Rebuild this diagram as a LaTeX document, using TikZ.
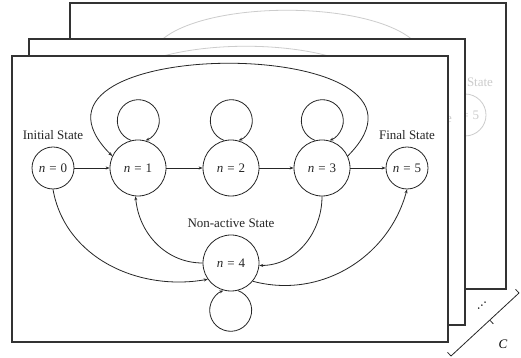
\documentclass[tikz,border=0pt]{standalone}
\usepackage{fontspec}
\setmainfont{Liberation Serif}
\usepackage{tikz}
\usetikzlibrary{arrows.meta, calc}

\tikzset{
	st/.style = {draw, circle, line width=0.8pt, inner sep=0pt, minimum size=42pt},
	bst/.style = {st, minimum size=56pt},
	lbl/.style = {inner sep=0pt},
	arr/.style = {line width=0.8pt, -{Stealth[length=4pt, width=3pt]}},
	frame/.style = {draw=black!80, line width=1.3pt},
	brk/.style = {line width=0.8pt, black!85}
}

\newif\ifghost
\newif\ifshowfive
\newcommand{\nlab}[1]{\textit{n}\hspace{0.3em}=\hspace{0.3em}#1}
\newcommand{\fgtxt}[1]{\ifghost\else#1\fi}

% one layer of the state machine
\newcommand{\fsmlayer}{%
	\node[st] (n0) at (53,190) {\fgtxt{\nlab{0}}};
	\node[bst] (n1) at (138,190) {\fgtxt{\nlab{1}}};
	\node[bst] (n2) at (231,190) {\fgtxt{\nlab{2}}};
	\node[bst] (n3) at (322,190) {\fgtxt{\nlab{3}}};
	\node[bst] (n4) at (231,95) {\fgtxt{\nlab{4}}};
	\node[st] (n5) at (407,190) {\ifshowfive\nlab{5}\fi};
	\node[lbl] (l0) at (53,223) {\fgtxt{Initial State}};
	\node[lbl] (l5) at (407,223) {Final State};
	\node[lbl] (l4) at (231,135) {\fgtxt{Non-active State}};
	% straight transitions
	\draw[arr] (n0) -- (n1);
	\draw[arr] (n1) -- (n2);
	\draw[arr] (n2) -- (n3);
	\draw[arr] (n3) -- (n5);
	% self loops
	\foreach \k in {1,2,3}
		\draw[arr] (n\k.104) arc[radius=21pt, start angle=250, end angle=-70];
	\draw[arr] (n4.-76) arc[radius=21pt, start angle=70, end angle=-250];
	% curved transitions
	\draw[arr] (n3.25) to[out=45, in=135, looseness=1.9] (n1.155);
	\draw[arr] (n0.south) to[out=-80, in=190] (n4.215);
	\draw[arr] (n4.west) to[out=180, in=-85] (n1.265);
	\draw[arr] (n3.south) to[out=-90, in=0] (n4.-5);
	\draw[arr] (n4.-40) to[out=-15, in=-105] (n5.south);
}

\begin{document}
\begin{tikzpicture}[x=1pt, y=1pt, font=\fontsize{13}{15}\selectfont]
	\useasboundingbox (0,0) rectangle (521,358);

	% back layer
	\begin{scope}[shift={(58,53)}, name prefix=b-]
		\ghosttrue \showfivetrue
		\fill[white] (12,16) rectangle (448,302);
		\begin{scope}[color=gray!40]
			\clip (12,16) rectangle (448,302);
			\fsmlayer
		\end{scope}
		\draw[frame] (12,16) rectangle (448,302);
	\end{scope}

	% middle layer
	\begin{scope}[shift={(17,17)}, name prefix=m-]
		\ghosttrue \showfivefalse
		\fill[white] (12,16) rectangle (448,302);
		\begin{scope}[color=gray!40]
			\clip (12,16) rectangle (448,302);
			\fsmlayer
		\end{scope}
		\draw[frame] (12,16) rectangle (448,302);
	\end{scope}

	% front layer
	\fill[white] (12,16) rectangle (448,302);
	\begin{scope}[color=black!85]
		\ghostfalse \showfivetrue
		\fsmlayer
	\end{scope}
	\draw[frame] (12,16) rectangle (448,302);

	% layer count bracket
	\coordinate (cb1) at (451,2);
	\coordinate (cb2) at (519,65);
	\draw[brk] (cb1) -- (cb2);
	\draw[brk] (cb1) -- ++(-3.5,3.7);
	\draw[brk] (cb2) -- ++(-3.5,3.7);
	\draw[brk] ($(cb1)!0.57!(cb2)$) coordinate (cbm) -- ++(3.5,-3.7);
	\node (cl) at (503,14) {\textit{C}};
	\node[rotate=43, inner sep=0pt] (dts) at (482,52) {\dots};
\end{tikzpicture}
\end{document}
